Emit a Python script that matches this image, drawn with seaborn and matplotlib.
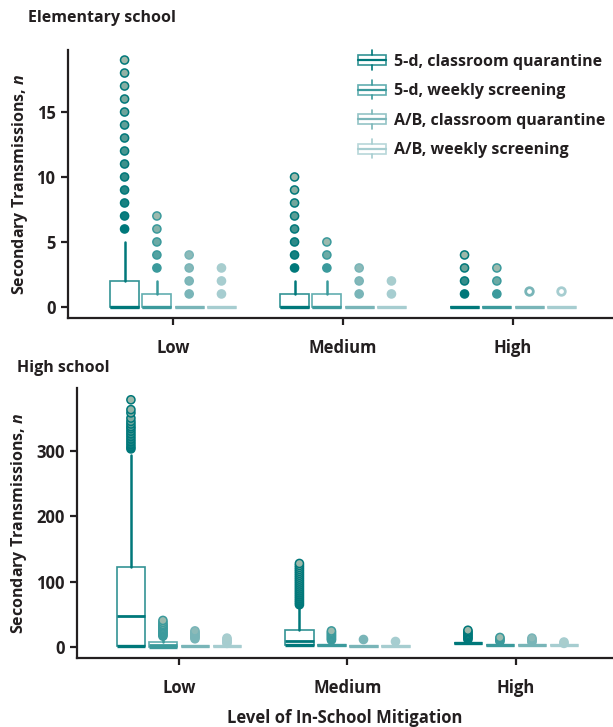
import matplotlib
matplotlib.use('Agg')
import matplotlib.pyplot as plt
import matplotlib.colors as mcolors
import numpy as np
import seaborn as sns
from matplotlib.legend_handler import HandlerBase
from matplotlib.patches import Rectangle
from matplotlib.lines import Line2D

# categories and series
levels = ['Low', 'Medium', 'High']
series = ['5-d, classroom quarantine', '5-d, weekly screening',
          'A/B, classroom quarantine', 'A/B, weekly screening']
colors = ['#00787a', '#3b9a9c', '#79b5b8', '#a6cdd0']

# Elementary school box stats, indexed [series][level]
es_q1 = [[0, 0, 0], [0, 0, 0], [0, 0, 0], [0, 0, 0]]
es_med = [[0, 0, 0], [0, 0, 0], [0, 0, 0], [0, 0, 0]]
es_q3 = [[2, 1, 0], [1, 1, 0], [0, 0, 0], [0, 0, 0]]
es_whislo = [[0, 0, 0], [0, 0, 0], [0, 0, 0], [0, 0, 0]]
es_whishi = [[5, 2, 0], [2, 2, 0], [0, 0, 0], [0, 0, 0]]
es_fliers = [
    [[6, 7, 8, 9, 10, 11, 12, 13, 14, 15, 16, 17, 18, 19], [3, 4, 5, 6, 7, 8, 9, 10], [1, 2, 3, 4]],
    [[3, 4, 5, 6, 7], [3, 4, 5], [1, 2, 3]],
    [[1, 2, 3, 4], [1, 2, 3], []],
    [[1, 2, 3], [1, 2], []],
]
# hollow markers in the High group
es_rings = [[], [], [1.2], [1.2]]

# High school box stats, indexed [series][level]
hs_q1 = [[2, 3.5, 6], [1, 3, 4], [2, 2, 4], [2, 2, 3]]
hs_med = [[48, 9, 6], [3, 3, 4], [2, 2, 4], [2, 2, 3]]
hs_q3 = [[122, 27, 6], [8, 3, 4], [2, 2, 4], [2, 2, 3]]
hs_whislo = [[2, 3.5, 6], [1, 3, 4], [2, 2, 4], [2, 2, 3]]
hs_whishi = [[294, 62, 6], [15, 3, 4], [2, 2, 4], [2, 2, 3]]
hs_fliers = [
    [[303, 306, 310, 314, 318, 322, 326, 330, 334, 337, 341, 345, 350, 358, 363, 378],
     [65, 68, 71, 74, 77, 80, 83, 86, 89, 92, 95, 98, 101, 104, 107, 110, 113, 116, 119, 122, 125, 128],
     [12, 14, 16, 18, 20, 22, 24, 26]],
    [[17, 19, 21, 23, 25, 27, 29, 31, 33, 35, 38, 41], [11, 13, 15, 17, 19, 21, 23, 25], [9, 11, 13, 15]],
    [[13, 15, 17, 19, 21, 23, 25], [13], [8, 10, 12, 14]],
    [[6, 8, 10, 12, 14], [10], [6, 8]],
]

sns.set_style('ticks')
plt.rcParams['font.family'] = ['Open Sans', 'DejaVu Sans']
plt.rcParams['font.weight'] = 'bold'
plt.rcParams['axes.labelweight'] = 'bold'
plt.rcParams['mathtext.fontset'] = 'custom'
plt.rcParams['mathtext.it'] = 'Open Sans:italic:bold'
plt.rcParams['mathtext.rm'] = 'Open Sans:bold'

offsets = [-0.285, -0.095, 0.095, 0.285]
box_w = 0.17
fade = [0.8, 0.7, 0.25, 0.1]
grey = np.array(mcolors.to_rgb('#c6c8b6'))
ink = '#231f20'


def lighten(c, f):
    c = np.array(mcolors.to_rgb(c))
    return tuple(c + (1 - c) * f)


def draw_panel(ax, q1, med, q3, wlo, whi, fliers, rings=None):
    for s, c in enumerate(colors):
        stats = []
        for i in range(len(levels)):
            stats.append(dict(q1=q1[s][i], med=med[s][i], q3=q3[s][i],
                              whislo=wlo[s][i], whishi=whi[s][i], fliers=[]))
        pos = np.arange(len(levels)) + offsets[s]
        out = ax.bxp(stats, positions=pos, widths=box_w, showfliers=False,
                     patch_artist=True, capwidths=box_w,
                     boxprops=dict(facecolor='white', edgecolor=lighten(c, 0.2), linewidth=1.2),
                     medianprops=dict(color=c, linewidth=2.0, solid_capstyle='butt'),
                     whiskerprops=dict(color=c, linewidth=1.8),
                     capprops=dict(color=c, linewidth=2.4, solid_capstyle='butt'))
        # only keep the lower cap
        for k, cap in enumerate(out['caps']):
            if k % 2 == 1:
                cap.set_visible(False)
        base = np.array(mcolors.to_rgb(c))
        for i in range(len(levels)):
            vals = sorted(fliers[s][i])
            n = len(vals)
            if n == 0:
                continue
            faces = []
            for k in range(n):
                t = (k / (n - 1) if n > 1 else 0) * fade[s]
                faces.append(tuple(base * (1 - t) + grey * t))
            ax.scatter([pos[i]] * n, vals, s=34, facecolors=faces,
                       edgecolors=[c] * n, linewidths=1.1, zorder=4)
        if rings is not None:
            for v in rings[s]:
                ax.scatter([pos[2]], [v], s=30, facecolors='white',
                           edgecolors=c, linewidths=2.0, zorder=4)
    ax.set_xticks(range(len(levels)))
    ax.set_xticklabels(levels)
    sns.despine(ax=ax)
    for sp in ['left', 'bottom']:
        ax.spines[sp].set_linewidth(1.6)
        ax.spines[sp].set_color(ink)
    ax.tick_params(axis='both', length=5, width=1.6, color=ink,
                   labelsize=12, labelcolor=ink)
    ax.tick_params(axis='x', pad=10)
    ax.tick_params(axis='y', pad=4)


class BoxIcon(HandlerBase):
    def create_artists(self, legend, orig_handle, xdescent, ydescent,
                       width, height, fontsize, trans):
        c = orig_handle.get_color()
        x0, y0 = -xdescent, -ydescent
        rect = Rectangle((x0, y0), width, height, facecolor='white',
                         edgecolor=lighten(c, 0.2), linewidth=1.2, transform=trans)
        mid = Line2D([x0, x0 + width], [y0 + height / 2] * 2, color=c,
                     linewidth=1.6, transform=trans)
        top = Line2D([x0 + width / 2] * 2, [y0 + height, y0 + height * 1.45],
                     color=c, linewidth=1.2, transform=trans)
        bot = Line2D([x0 + width / 2] * 2, [y0, y0 - height * 0.45],
                     color=c, linewidth=1.2, transform=trans)
        return [rect, mid, top, bot]


fig = plt.figure(figsize=(6.13, 7.27), dpi=100)
ax1 = fig.add_axes([0.1109, 0.5626, 0.889, 0.3686])
ax2 = fig.add_axes([0.1256, 0.0949, 0.8744, 0.3714])

draw_panel(ax1, es_q1, es_med, es_q3, es_whislo, es_whishi, es_fliers, es_rings)
ax1.set_xlim(-0.618, 2.588)
ax1.set_ylim(-0.85, 19.77)
ax1.set_yticks([0, 5, 10, 15])
ax1.set_ylabel(r'Secondary Transmissions, $\mathit{n}$', fontsize=11.5, color=ink)
ax1.yaxis.set_label_coords(-0.07, 0.5)

draw_panel(ax2, hs_q1, hs_med, hs_q3, hs_whislo, hs_whishi, hs_fliers)
ax2.set_xlim(-0.605, 2.576)
ax2.set_ylim(-16.4, 396)
ax2.set_yticks([0, 100, 200, 300])
ax2.set_ylabel(r'Secondary Transmissions, $\mathit{n}$', fontsize=11.5, color=ink)
ax2.yaxis.set_label_coords(-0.089, 0.5)
ax2.set_xlabel('Level of In-School Mitigation', fontsize=12, color=ink)
ax2.xaxis.set_label_coords(0.5, -0.19)

fig.text(28 / 613, 1 - 18 / 727, 'Elementary school', fontsize=11.5,
         va='center', ha='left', color=ink)
fig.text(17 / 613, 1 - 368 / 727, 'High school', fontsize=11.5,
         va='center', ha='left', color=ink)

handles = [Line2D([], [], color=c) for c in colors]
ax1.legend(handles, series, handler_map={Line2D: BoxIcon()}, frameon=False,
           loc='upper right', bbox_to_anchor=(1.013, 1.04), fontsize=11.5,
           handlelength=1.8, handleheight=0.6, handletextpad=0.5,
           labelspacing=0.85, labelcolor=ink)

fig.savefig('out.png', dpi=100)
